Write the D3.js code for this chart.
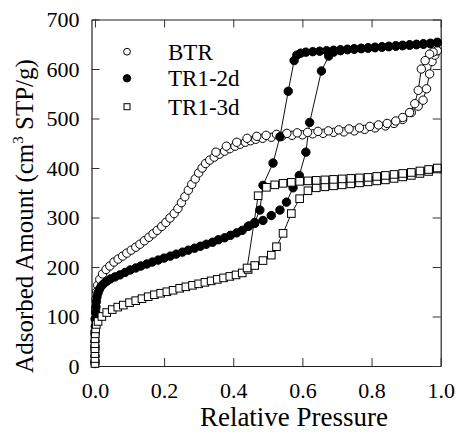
<!DOCTYPE html>
<html>
<head>
<meta charset="utf-8">
<script src="https://cdn.jsdelivr.net/npm/d3@7"></script>
<style>
  body { margin: 0; background: #fff; }
  svg text { font-family: "Liberation Serif", "Times New Roman", Times, "DejaVu Serif", serif !important; fill: #000; }
</style>
</head>
<body>
<script>
// chart values: [relative pressure, adsorbed amount]
var btrAds = [[0,10],[0,40],[0,70],[0.001,95],[0.002,115],[0.003,135],[0.005,150],[0.008,163],[0.014,175],
  [0.022,186],[0.032,195],[0.043,202],[0.055,210],[0.067,216],[0.08,222],[0.092,228],[0.105,234],[0.118,240],
  [0.13,246],[0.143,253],[0.156,260],[0.168,267],[0.18,274],[0.193,282],[0.205,290],[0.217,299],[0.229,308],
  [0.24,318],[0.25,330],[0.26,342],[0.27,355],[0.28,367],[0.29,378],[0.3,390],[0.31,400],[0.32,409],
  [0.332,416],[0.345,422],[0.36,428],[0.375,434],[0.39,439],[0.405,444],[0.42,448],[0.435,452],[0.45,455],
  [0.465,458],[0.485,460],[0.51,462],[0.54,464],[0.57,466],[0.6,467],[0.63,469],[0.66,470],[0.69,472],
  [0.72,473],[0.75,475],[0.78,478],[0.81,481],[0.84,485],[0.865,490],[0.89,498],[0.915,512],[0.935,525],
  [0.949,537],[0.959,560],[0.968,590],[0.975,615],[0.983,628],[0.99,637]];
var btrDes = [[0.99,637],[0.978,634],[0.968,630],[0.955,617],[0.944,600],[0.935,557],[0.925,530],[0.91,512],
  [0.89,502],[0.87,495],[0.845,490],[0.82,487],[0.795,484],[0.765,481],[0.735,479],[0.705,477],[0.675,475],
  [0.645,474],[0.615,472],[0.585,471],[0.555,470],[0.525,468],[0.495,466],[0.468,464],[0.44,460],[0.41,452],
  [0.38,444],[0.35,432]];

var tr2Ads = [[0,5],[0,20],[0,35],[0,50],[0,65],[0.001,80],[0.001,95],[0.002,108],[0.003,120],[0.004,130],
  [0.006,140],[0.009,148],[0.013,155],[0.018,161],[0.025,166],[0.034,171],[0.045,176],[0.058,180],[0.072,184],
  [0.087,189],[0.102,194],[0.118,198],[0.133,202],[0.15,206],[0.166,210],[0.183,214],[0.2,218],[0.218,222],
  [0.235,226],[0.253,230],[0.27,234],[0.288,238],[0.305,242],[0.322,246],[0.34,250],[0.357,255],[0.375,259],
  [0.392,264],[0.41,269],[0.426,274],[0.443,282],[0.462,288],[0.486,294],[0.51,304],[0.535,315],[0.554,331],
  [0.573,360],[0.591,385],[0.61,432],[0.621,492],[0.655,596],[0.676,626],[0.69,634],[0.71,637],[0.73,639],
  [0.75,640],[0.77,641],[0.79,642],[0.81,643],[0.83,644],[0.85,645],[0.87,646],[0.89,647],[0.91,648],
  [0.93,649],[0.95,650],[0.97,651],[0.99,653]];
var tr2Des = [[0.99,654],[0.97,652],[0.95,651],[0.93,650],[0.91,649],[0.89,648],[0.87,647],[0.85,646],
  [0.83,645],[0.81,644],[0.79,643],[0.77,642],[0.75,641],[0.73,640],[0.71,639],[0.69,638],[0.67,637],
  [0.65,636],[0.63,635],[0.61,634],[0.595,632],[0.584,628],[0.576,617],[0.559,555],[0.535,463],[0.515,410],
  [0.486,365],[0.477,315],[0.462,290],[0.445,283]];

var tr3Ads = [[0,5],[0,15],[0,25],[0,35],[0,45],[0,55],[0.001,65],[0.002,75],[0.004,84],[0.009,90],
  [0.02,100],[0.034,108],[0.05,114],[0.066,119],[0.082,123],[0.1,128],[0.118,132],[0.136,136],[0.154,140],
  [0.172,144],[0.19,147],[0.208,150],[0.226,153],[0.245,157],[0.263,160],[0.282,163],[0.3,166],[0.318,169],
  [0.336,172],[0.354,175],[0.372,178],[0.39,181],[0.408,184],[0.426,188],[0.443,195],[0.462,203],[0.486,213],
  [0.51,224],[0.525,241],[0.544,268],[0.568,308],[0.592,338],[0.616,354],[0.64,360],[0.665,362],[0.69,364],
  [0.715,366],[0.74,368],[0.765,370],[0.79,372],[0.815,374],[0.84,376],[0.865,379],[0.89,382],[0.915,385],
  [0.94,389],[0.965,393],[0.99,398]];
var tr3Des = [[0.99,400],[0.965,397],[0.94,394],[0.915,391],[0.89,389],[0.865,387],[0.84,385],[0.815,383],
  [0.79,381],[0.765,380],[0.74,379],[0.715,378],[0.69,377],[0.665,376],[0.64,375],[0.616,374],[0.592,373],
  [0.568,371],[0.544,369],[0.52,366],[0.496,361],[0.472,344],[0.44,198]];

var seriesNames = ["BTR", "TR1-2d", "TR1-3d"];
var xTicks = [0, 0.2, 0.4, 0.6, 0.8, 1.0];
var yTicks = [0, 100, 200, 300, 400, 500, 600, 700];

var svgWidth = 456;
var svgHeight = 435;
var serif = "Liberation Serif, Times New Roman, DejaVu Serif, serif";

var svg = d3.select("body")
  .append("svg")
  .attr("width", svgWidth)
  .attr("height", svgHeight)
  .attr("font-family", serif);

// scales (frame runs from x=91.5 to 440.7, y=19.5 to 366)
var x = d3.scaleLinear().domain([-0.01, 1.0]).range([91.5, 440.7]);
var y = d3.scaleLinear().domain([0, 700]).range([366, 19.5]);

// axes, ticks pointing in
var fmt = d3.format(".1f");
var gB = svg.append("g").attr("transform", "translate(0,366)")
  .call(d3.axisBottom(x).tickValues(xTicks).tickFormat(fmt).tickSizeInner(-8).tickSizeOuter(0).tickPadding(16));
var gL = svg.append("g").attr("transform", "translate(91.5,0)")
  .call(d3.axisLeft(y).tickValues(yTicks).tickSizeInner(-8).tickSizeOuter(0).tickPadding(12));
var gT = svg.append("g").attr("transform", "translate(0,19.5)")
  .call(d3.axisTop(x).tickValues(xTicks).tickFormat("").tickSizeInner(-8).tickSizeOuter(0));
var gR = svg.append("g").attr("transform", "translate(440.7,0)")
  .call(d3.axisRight(y).tickValues(yTicks).tickFormat("").tickSizeInner(-8).tickSizeOuter(0));

[gB, gL, gT, gR].forEach(function (g) {
  g.attr("font-family", serif).attr("font-size", 22);
  g.selectAll("path").attr("stroke", "#222").attr("stroke-width", 1.2);
  g.selectAll("line").attr("stroke", "#333").attr("stroke-width", 1);
});

// axis labels
svg.append("text")
  .attr("x", 294)
  .attr("y", 426)
  .attr("text-anchor", "middle")
  .attr("font-size", 27)
  .text("Relative Pressure");

var yTitle = svg.append("text")
  .attr("transform", "translate(33,216) rotate(-90)")
  .attr("text-anchor", "middle")
  .attr("font-size", 25);
yTitle.append("tspan").text("Adsorbed Amount (cm");
yTitle.append("tspan").attr("dy", -10).attr("font-size", 15).text("3");
yTitle.append("tspan").attr("dy", 10).text(" STP/g)");

var line = d3.line().x(d => x(d[0])).y(d => y(d[1]));
var branches = [btrAds, btrDes, tr2Ads, tr2Des, tr3Ads, tr3Des];

// connecting lines
svg.append("g").selectAll("path")
  .data(branches)
  .enter()
  .append("path")
  .attr("d", line)
  .attr("fill", "none")
  .attr("stroke", "#111")
  .attr("stroke-width", 1);

// markers
function circles(data, fill) {
  svg.append("g").selectAll("circle")
    .data(data)
    .enter()
    .append("circle")
    .attr("cx", d => x(d[0]))
    .attr("cy", d => y(d[1]))
    .attr("r", 4.2)
    .attr("fill", fill)
    .attr("stroke", "#000")
    .attr("stroke-width", 1);
}
function squares(data) {
  svg.append("g").selectAll("rect")
    .data(data)
    .enter()
    .append("rect")
    .attr("x", d => x(d[0]) - 3.8)
    .attr("y", d => y(d[1]) - 3.8)
    .attr("width", 7.6)
    .attr("height", 7.6)
    .attr("fill", "#fff")
    .attr("stroke", "#000")
    .attr("stroke-width", 1);
}
circles(btrAds, "#fff");
circles(btrDes, "#fff");
circles(tr2Ads, "#000");
circles(tr2Des, "#000");
squares(tr3Ads);
squares(tr3Des);

// legend
var legend = svg.append("g");
var legY = [51.7, 78.3, 106.7];
legend.append("circle").attr("cx", 127).attr("cy", legY[0]).attr("r", 3.4)
  .attr("fill", "#fff").attr("stroke", "#000");
legend.append("circle").attr("cx", 127).attr("cy", legY[1]).attr("r", 3.7)
  .attr("fill", "#000").attr("stroke", "#000");
legend.append("rect").attr("x", 124).attr("y", legY[2] - 3).attr("width", 6).attr("height", 6)
  .attr("fill", "#fff").attr("stroke", "#000");
legend.selectAll("text")
  .data(seriesNames)
  .enter()
  .append("text")
  .attr("x", 168)
  .attr("y", (d, i) => legY[i] + 8)
  .attr("font-size", 23)
  .text(d => d);
</script>
</body>
</html>
